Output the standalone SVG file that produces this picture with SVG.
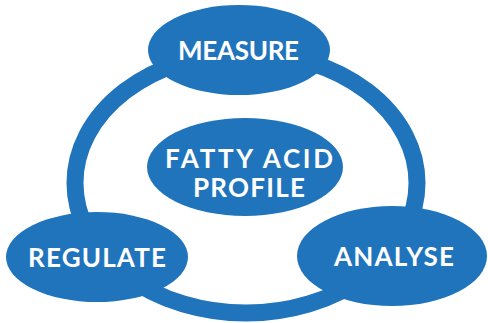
<svg xmlns="http://www.w3.org/2000/svg" width="488" height="323" viewBox="0 0 488 323">
<style>
.n{fill:#1f74bc}
.t{fill:#fff;font-family:Lato,"Open Sans","Liberation Sans",sans-serif;font-weight:bold;font-size:26px;text-anchor:middle}
.ring{fill:none;stroke:#1f74bc;stroke-width:17}
</style>
<rect width="488" height="323" fill="#fff"/>
<g id="connectors">
<ellipse class="ring" cx="246" cy="183" rx="171" ry="130"/>
</g>
<g id="measure">
<ellipse class="n" cx="239" cy="50" rx="91" ry="45"/>
<text class="t" x="238.5" y="60" textLength="121" lengthAdjust="spacing">MEASURE</text>
</g>
<g id="fatty-acid-profile">
<ellipse class="n" cx="245" cy="167" rx="98" ry="49"/>
<text class="t" x="249" y="168" textLength="168" lengthAdjust="spacing">FATTY ACID</text>
<text class="t" x="249" y="197" textLength="112" lengthAdjust="spacing">PROFILE</text>
</g>
<g id="regulate">
<ellipse class="n" cx="97" cy="257" rx="91" ry="45"/>
<text class="t" x="97" y="267" textLength="138" lengthAdjust="spacing">REGULATE</text>
</g>
<g id="analyse">
<ellipse class="n" cx="392" cy="256" rx="95" ry="50"/>
<text class="t" x="394" y="266" textLength="120" lengthAdjust="spacing">ANALYSE</text>
</g>
</svg>
